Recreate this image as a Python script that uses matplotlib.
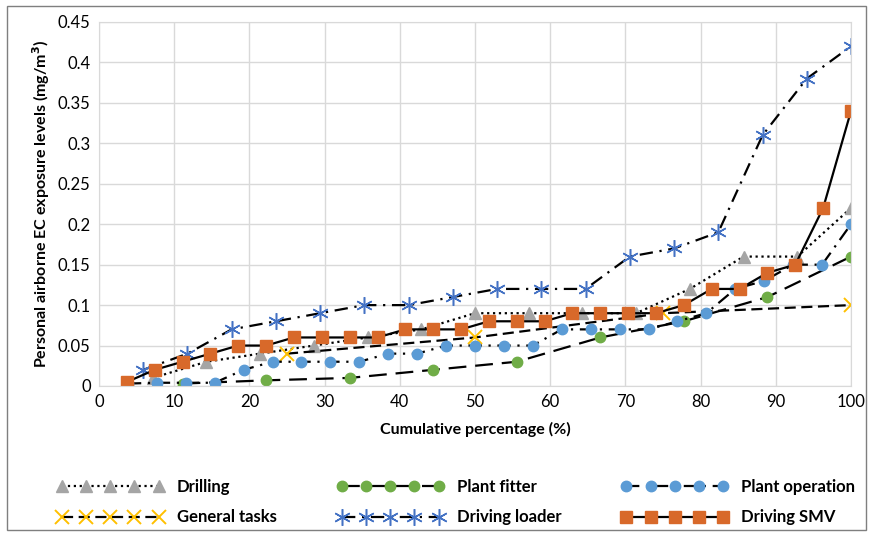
import numpy as np
import matplotlib

matplotlib.use("Agg")
import matplotlib.pyplot as plt

plt.rcParams["font.family"] = ["Lato", "DejaVu Sans"]

# cumulative percentages are i/n*100 for each group (n samples)
drilling = [0.01, 0.03, 0.04, 0.05, 0.06, 0.07, 0.09, 0.09, 0.09, 0.09,
            0.12, 0.16, 0.16, 0.22]
plant_fitter = [0.003, 0.007, 0.01, 0.02, 0.03, 0.06, 0.08, 0.11, 0.16]
plant_operation = [0.003, 0.004, 0.004, 0.004, 0.02, 0.03, 0.03, 0.03, 0.03,
                   0.04, 0.04, 0.05, 0.05, 0.05, 0.05, 0.07, 0.07, 0.07, 0.07,
                   0.08, 0.09, 0.12, 0.13, 0.15, 0.15, 0.20]
general_tasks = [0.04, 0.06, 0.09, 0.10]
driving_loader = [0.02, 0.04, 0.07, 0.08, 0.09, 0.10, 0.10, 0.11, 0.12, 0.12,
                  0.12, 0.16, 0.17, 0.19, 0.31, 0.38, 0.42]
driving_smv = [0.005, 0.02, 0.03, 0.04, 0.05, 0.05, 0.06, 0.06, 0.06, 0.06,
               0.07, 0.07, 0.07, 0.08, 0.08, 0.08, 0.09, 0.09, 0.09, 0.09,
               0.10, 0.12, 0.12, 0.14, 0.15, 0.22, 0.34]

y_ticks = [0, 0.05, 0.1, 0.15, 0.2, 0.25, 0.3, 0.35, 0.4, 0.45]
y_labels = ["0", "0.05", "0.1", "0.15", "0.2", "0.25", "0.3", "0.35", "0.4", "0.45"]
x_ticks = list(range(0, 101, 10))


def cum(vals):
    n = len(vals)
    return np.arange(1, n + 1) / n * 100


fig = plt.figure(figsize=(8.69, 5.34), dpi=100)
ax = fig.add_axes([99 / 869, 1 - 386 / 534, 752 / 869, 364 / 534])

series = [
    ("Drilling", drilling, dict(ls=":", marker="^", mfc="#a5a5a5", ms=8.5)),
    ("General tasks", general_tasks, dict(ls=(0, (5, 2.5)), marker="x", mec="#ffc000",
                                          ms=10, mew=1.4)),
    ("Plant fitter", plant_fitter, dict(ls=(0, (8, 4)), marker="o", mfc="#70ad47", ms=7.5)),
    ("Driving loader", driving_loader, dict(ls=(0, (6, 3, 1, 3)), marker=(6, 2, 0),
                                            mec="#4472c4", ms=12, mew=1.1)),
    ("Plant operation", plant_operation, dict(ls=(0, (6, 3, 1, 3)), marker="o",
                                              mfc="#5b9bd5", ms=7.5)),
    ("Driving SMV", driving_smv, dict(ls="-", marker="s", mfc="#d8692a", ms=8)),
]

handles = {}
for name, vals, st in series:
    st = dict(st)
    mfc = st.pop("mfc", None)
    mec = st.pop("mec", None)
    if mfc is not None:
        st["mfc"] = mfc
        st["mec"] = mfc
    else:
        st["mec"] = mec
    (h,) = ax.plot(cum(vals), vals, color="black", lw=1.6, label=name, **st)
    handles[name] = h

ax.set_xlim(0, 100)
ax.set_ylim(0, 0.45)
ax.set_xticks(x_ticks)
ax.set_yticks(y_ticks)
ax.set_yticklabels(y_labels)
ax.grid(True, color="#d9d9d9", lw=1)
ax.set_axisbelow(True)
ax.tick_params(length=0, labelsize=12, pad=6)
for s in ax.spines.values():
    s.set_color("#d9d9d9")
ax.set_xlabel("Cumulative percentage (%)", fontsize=11.5, fontweight="bold", labelpad=8)
ax.set_ylabel("Personal airborne EC exposure levels (mg/m$^\\mathbf{3}$)",
              fontsize=11.5, fontweight="bold", labelpad=4)

order = ["Drilling", "General tasks", "Plant fitter", "Driving loader",
         "Plant operation", "Driving SMV"]
fig.legend([handles[k] for k in order], order, ncol=3, numpoints=5,
           handlelength=6.4, handletextpad=0.8, columnspacing=3.6, frameon=False,
           loc="lower center", bbox_to_anchor=(0.525, -0.012),
           prop=dict(weight="bold", size=12), labelspacing=0.85)

fig.patches.append(plt.Rectangle((0.008, 0.008), 0.988, 0.98, transform=fig.transFigure,
                                 fill=False, ec="#7f7f7f", lw=1))
fig.savefig("out.png")
